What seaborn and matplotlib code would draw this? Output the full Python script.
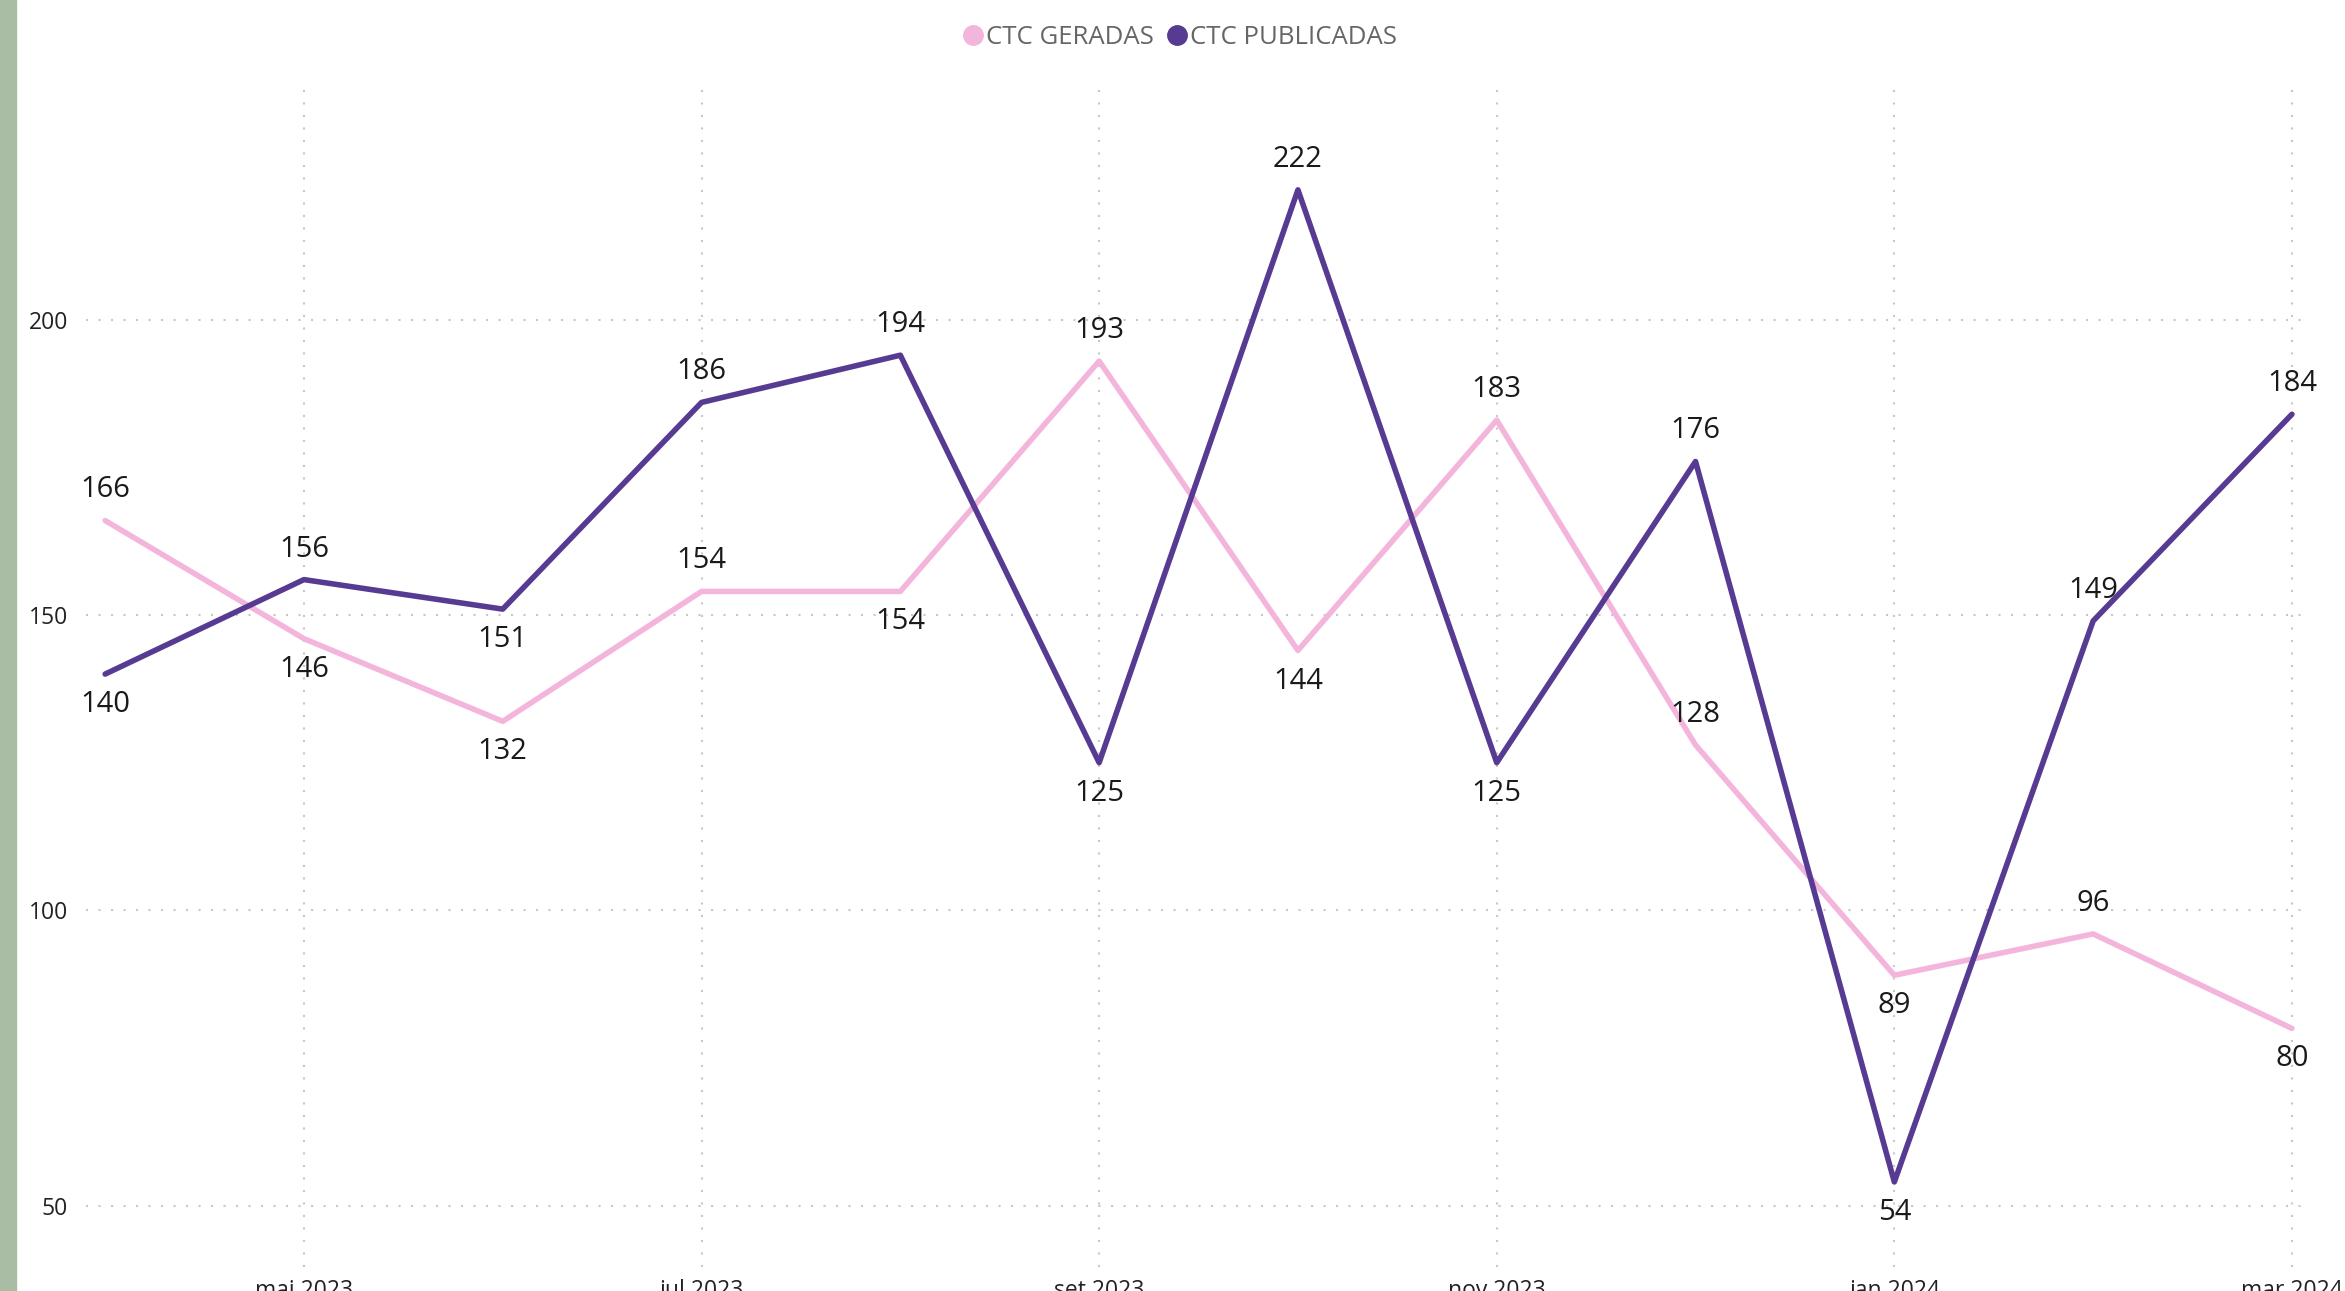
import pandas as pd
import matplotlib.pyplot as plt
import seaborn as sns
from matplotlib.lines import Line2D
from matplotlib.patches import Rectangle

meses = ['abr 2023', 'mai 2023', 'jun 2023', 'jul 2023', 'ago 2023', 'set 2023',
         'out 2023', 'nov 2023', 'dez 2023', 'jan 2024', 'fev 2024', 'mar 2024']
geradas = [166, 146, 132, 154, 154, 193, 144, 183, 128, 89, 96, 80]
publicadas = [140, 156, 151, 186, 194, 125, 222, 125, 176, 54, 149, 184]
# 1 = rótulo acima do ponto, -1 = abaixo
lado_geradas = [1, -1, -1, 1, -1, 1, -1, 1, 1, -1, 1, -1]
lado_publicadas = [-1, 1, -1, 1, 1, -1, 1, -1, 1, -1, 1, 1]
series = ['CTC GERADAS', 'CTC PUBLICADAS']
cores = ['#F4B5DC', '#573B93']

df = pd.DataFrame({'mes': list(range(len(meses))) * 2,
                   'valor': geradas + publicadas,
                   'serie': [series[0]] * len(meses) + [series[1]] * len(meses)})

sns.set_style('white')
plt.rcParams['font.family'] = ['Open Sans', 'DejaVu Sans']

fig = plt.figure(figsize=(23.45, 12.91), dpi=100)
ax = fig.add_axes([0.0367, 0.0186, 0.9483, 0.9144])
fig.patches.append(Rectangle((0, 0), 16 / 2345, 1, transform=fig.transFigure,
                             color='#A9BDA4', zorder=0))

sns.lineplot(data=df, x='mes', y='valor', hue='serie', hue_order=series,
             palette=cores, linewidth=4, ax=ax, legend=False)

for vals, lados in [(geradas, lado_geradas), (publicadas, lado_publicadas)]:
    for i, (v, s) in enumerate(zip(vals, lados)):
        ax.annotate(str(v), (i, v), xytext=(0, 22 * s), textcoords='offset points',
                    ha='center', va='center', fontsize=21, color='#1a1a1a')

ax.set_xlim(-0.096, 11.09)
ax.set_ylim(39.6, 239.5)
ax.set_xticks(range(1, 12, 2))
ax.set_xticklabels(meses[1::2])
ax.set_yticks([50, 100, 150, 200])
ax.tick_params(axis='both', length=0, labelsize=16.5, colors='#222222')
ax.tick_params(axis='y', pad=13)
ax.tick_params(axis='x', pad=9)
ax.set_xlabel('')
ax.set_ylabel('')
ax.grid(True, color='#C8C8C8', linestyle=(0, (1, 5)), linewidth=1.5)
sns.despine(ax=ax, left=True, bottom=True)

handles = [Line2D([], [], marker='o', linestyle='', markersize=14, color=c) for c in cores]
fig.legend(handles, series, loc='center', bbox_to_anchor=(0.503, 0.971), ncol=2,
           frameon=False, fontsize=18.5, labelcolor='#666666', handletextpad=0.1,
           columnspacing=0.5, handlelength=0.8)

fig.savefig('out.png', dpi=100)
